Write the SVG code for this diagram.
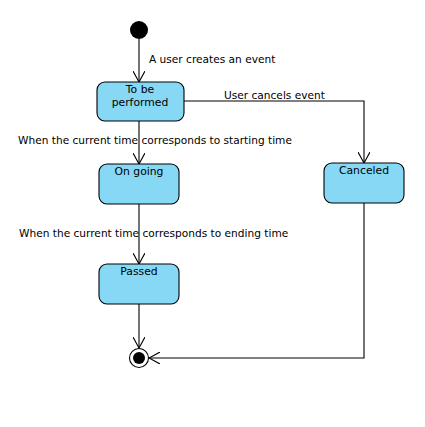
<svg xmlns="http://www.w3.org/2000/svg" width="425" height="427" viewBox="0 0 425 427">
<defs>
<style>
.node{fill:#86d8f4;stroke:#000;stroke-width:1.1}
.lbl{font-family:"DejaVu Sans",Verdana,sans-serif;font-size:10.6px;fill:#000}
.nl{font-family:"DejaVu Sans",Verdana,sans-serif;font-size:10.8px;fill:#000;text-anchor:middle}
.edge{fill:none;stroke:#000;stroke-width:1.1}
</style>
<marker id="arr" viewBox="0 0 12 12" refX="11" refY="6" markerWidth="12" markerHeight="12" markerUnits="userSpaceOnUse" orient="auto">
<path d="M0,0 L11,6 L0,12" fill="none" stroke="#000" stroke-width="1.1"/>
</marker>
</defs>
<rect width="425" height="427" fill="#fff"/>
<g id="connectors">
<path class="edge" d="M139,39 L139,82" marker-end="url(#arr)"/>
<path class="edge" d="M139,121 L139,164" marker-end="url(#arr)"/>
<path class="edge" d="M139,204 L139,264" marker-end="url(#arr)"/>
<path class="edge" d="M139,304 L139,348" marker-end="url(#arr)"/>
<path class="edge" d="M184,101 L364,101 L364,163" marker-end="url(#arr)"/>
<path class="edge" d="M364,203 L364,358 L149,358" marker-end="url(#arr)"/>
<text class="lbl" x="149" y="63">A user creates an event</text>
<text class="lbl" x="224" y="99">User cancels event</text>
<text class="lbl" x="18" y="144">When the current time corresponds to starting time</text>
<text class="lbl" x="19" y="237">When the current time corresponds to ending time</text>
</g>
<g id="initial"><circle cx="139" cy="30" r="9" fill="#000"/></g>
<g id="to-be-performed">
<rect class="node" x="97" y="82" width="87" height="39" rx="8"/>
<text class="nl" x="140" y="93">To be</text>
<text class="nl" x="140" y="106">performed</text>
</g>
<g id="on-going">
<rect class="node" x="99" y="164" width="80" height="40" rx="8"/>
<text class="nl" x="139" y="175">On going</text>
</g>
<g id="passed">
<rect class="node" x="99" y="264" width="80" height="40" rx="8"/>
<text class="nl" x="139" y="275">Passed</text>
</g>
<g id="canceled">
<rect class="node" x="324" y="163" width="80" height="40" rx="8"/>
<text class="nl" x="364" y="174">Canceled</text>
</g>
<g id="final">
<circle cx="139" cy="358" r="9.5" fill="#fff" stroke="#000" stroke-width="1.1"/>
<circle cx="139" cy="358" r="6" fill="#000"/>
</g>
</svg>
